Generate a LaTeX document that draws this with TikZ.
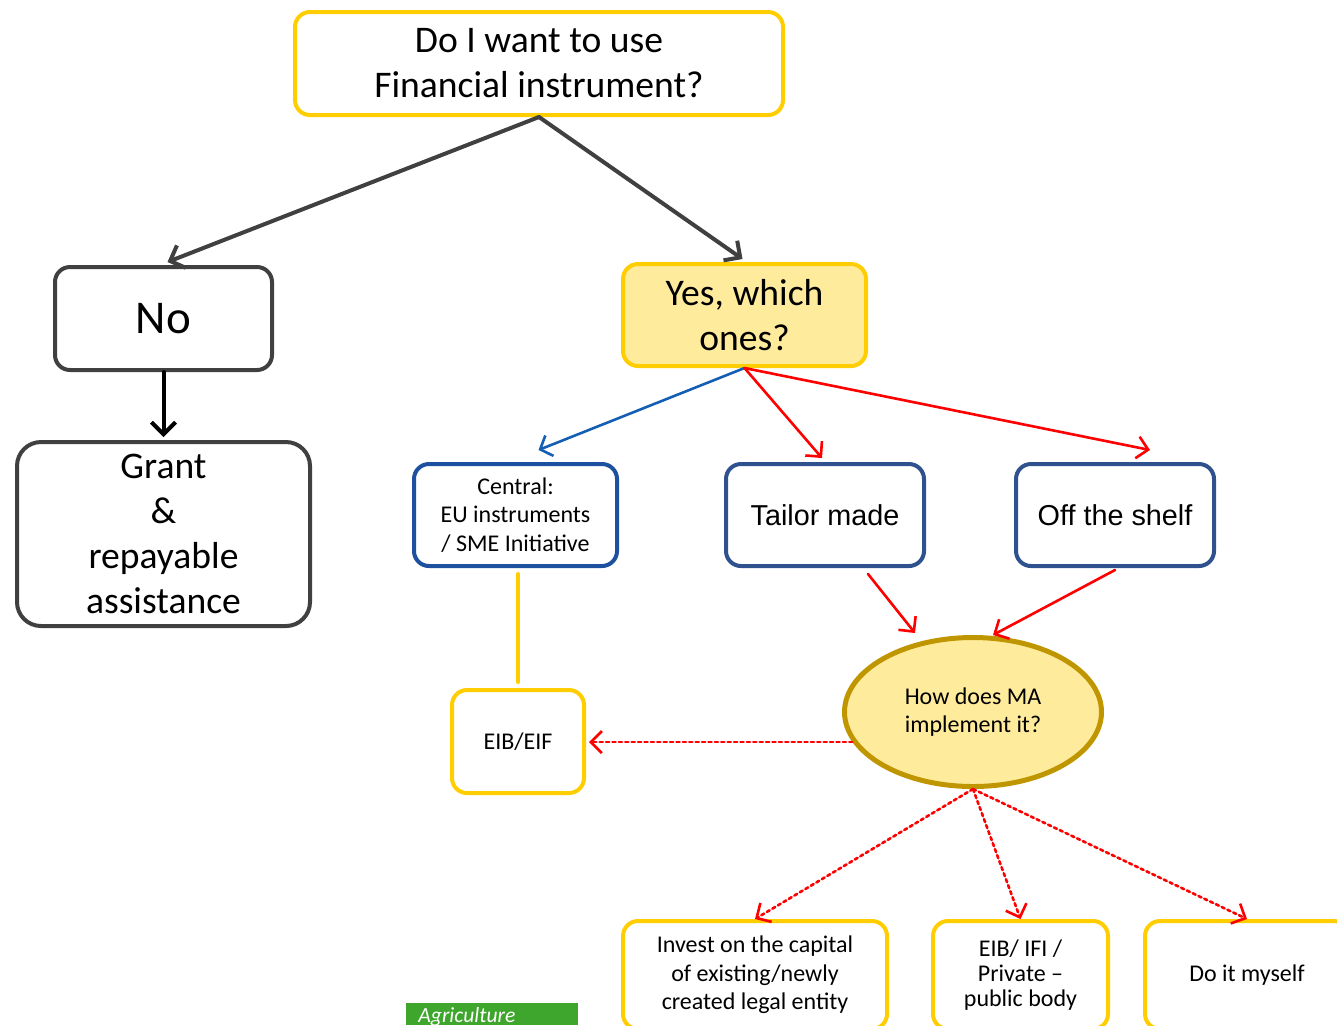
\documentclass[tikz,border=0pt]{standalone}
\usepackage{fontspec}
\setmainfont{Carlito}
\newfontfamily\arialfont{Liberation Sans}
\usetikzlibrary{shapes, calc, arrows.meta}
\definecolor{fiyellow}{RGB}{255,205,0}
\definecolor{fipale}{RGB}{255,235,156}
\definecolor{figold}{RGB}{191,150,0}
\definecolor{figray}{RGB}{64,64,64}
\definecolor{fiblue}{RGB}{30,80,160}
\definecolor{finavy}{RGB}{47,82,143}
\definecolor{fiarrow}{RGB}{20,95,180}
\definecolor{figreen}{RGB}{62,166,44}
\tikzset{every text node part/.style={align=center}}
\tikzset{box/.style = {draw, rectangle, rounded corners=7.5pt, line width=2pt, inner sep=0pt}}
\tikzset{boxY/.style = {box, draw=fiyellow}}
\tikzset{boxG/.style = {box, draw=figray}}
\tikzset{boxB/.style = {box, draw=fiblue}}
\tikzset{boxN/.style = {box, draw=finavy, font=\arialfont\fontsize{14.4}{17}\selectfont}}
\tikzset{big/.style = {font=\fontsize{18.8}{22.5}\selectfont}}
\tikzset{little/.style = {font=\fontsize{12}{14.3}\selectfont}}
\tikzset{arrG/.style = {draw=figray, line width=2pt, -{Straight Barb[length=6pt, width=12pt]}}}
\tikzset{arrB/.style = {draw=fiarrow, line width=1.3pt, -{Straight Barb[length=5pt, width=11pt]}}}
\tikzset{arrR/.style = {draw=red, line width=1.3pt, -{Straight Barb[length=5.5pt, width=11pt]}}}
\tikzset{arrRd/.style = {arrR, dash pattern=on 1.6pt off 1.6pt}}

\begin{document}
\begin{tikzpicture}[x=0.5pt, y=-0.5pt, line cap=round, line join=round]
		\useasboundingbox (0,0) rectangle (1337,1025);
		\clip (0,0) rectangle (1337,1025);

		% Nodes
		\node[boxY, big, minimum width=244pt, minimum height=51.5pt] (want) at (539,63.5) {Do I want to use\\Financial instrument?};
		\node[boxG, minimum width=108.5pt, minimum height=51.5pt, font=\fontsize{23.5}{28}\selectfont] (no) at (163.5,318.5) {No};
		\node[boxG, big, rounded corners=12pt, minimum width=146.5pt, minimum height=92pt] (grant) at (163.5,534) {Grant\\\&\\repayable\\assistance};
		\node[boxY, big, fill=fipale, minimum width=121.5pt, minimum height=51pt] (yes) at (744.5,315) {Yes, which\\ones?};
		%
		\node[boxB, little, minimum width=101.5pt, minimum height=51pt] (central) at (515.5,515) {Central:\\EU instruments\\/ SME Initiative};
		\node[boxN, minimum width=99pt, minimum height=51pt] (tailor) at (825,515) {Tailor made};
		\node[boxN, minimum width=99pt, minimum height=51pt] (off) at (1115,515) {Off the shelf};
		%
		\node[boxY, little, minimum width=66pt, minimum height=51.5pt] (eib) at (518,741.5) {EIB/EIF};
		\node[ellipse, draw=figold, fill=fipale, line width=2.5pt, inner sep=0pt, little, minimum width=128.5pt, minimum height=74.5pt] (how) at (973,712) {How does MA\\implement it?};
		%
		\node[boxY, little, minimum width=132pt, minimum height=54pt] (invest) at (755,975) {Invest on the capital\\of existing/newly\\created legal entity};
		\node[boxY, font=\fontsize{12}{12.7}\selectfont, minimum width=87.5pt, minimum height=54pt] (ifi) at (1020.5,975) {EIB/ IFI /\\Private --\\public body};
		\node[boxY, little, minimum width=102pt, minimum height=54pt] (myself) at (1247,975) {Do it myself};

		% Strip
		\fill[figreen] (406,1003) rectangle (578,1025);
		\node[anchor=base west, inner sep=0pt, text=white, font=\fontsize{10.8}{12}\selectfont\itshape] (agri) at (418,1022) {Agriculture};

		% Arrows
		\draw[arrG] (want.south) -- ($(no.north)+(4,-3)$);
		\draw[arrG] (want.south) -- ($(yes.north)+(-2,-3)$);
		\draw[arrG, draw=black] (no.south) -- ($(grant.north)+(0,-3)$);
		%% Yes
		\draw[arrB] (yes.south) -- ($(central.north)+(23,-12)$);
		\draw[arrR] (yes.south) -- ($(tailor.north)+(-3,-4)$);
		\draw[arrR] (yes.south) -- ($(off.north)+(35,-12)$);
		%% Middle row
		\draw[fiyellow, line width=2pt, shorten <=3pt, shorten >=3pt] (central.south -| eib.north) -- (eib.north);
		\draw[arrR] ($(tailor.south)+(43,6)$) -- ($(how.north)+(-58,-2)$);
		\draw[arrR] ($(off.south)+(0,2)$) -- ($(how.north)+(20,0)$);
		%% Dotted
		\draw[arrRd, shorten >=1.5pt] (how.194) -- (how.194 -| eib.east);
		\draw[arrRd] (how.south) -- (invest.north);
		\draw[arrRd] (how.south) -- (ifi.north);
		\draw[arrRd] (how.south) -- (myself.north);
	\end{tikzpicture}
\end{document}
